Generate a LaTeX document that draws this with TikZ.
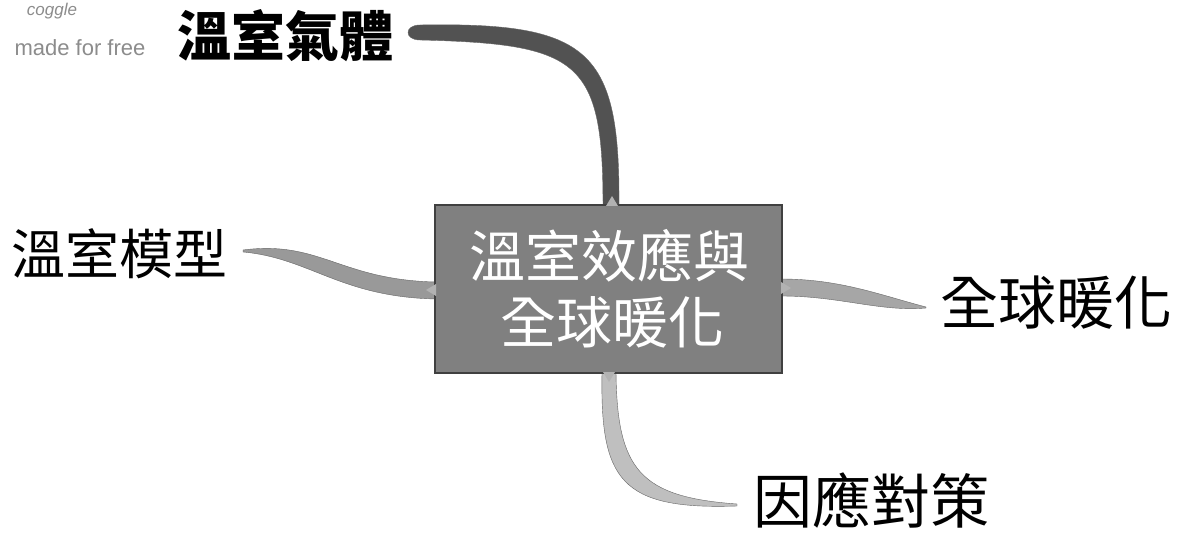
\documentclass[tikz,border=0pt]{standalone}
\usepackage{fontspec}
\newfontfamily\cjk{Noto Sans CJK TC}
\newfontfamily\lat{Liberation Sans}
\begin{document}
\begin{tikzpicture}[x=1pt,y=-1pt,
  lbl/.style={inner sep=0pt, text=black},
  ctext/.style={inner sep=0pt, text=white, font=\cjk\fontsize{56}{60}\selectfont},
  box/.style={draw=black!75, line width=1.2pt, fill=black!50, inner sep=0pt,
              minimum width=347pt, minimum height=168pt},
  branch/.style={draw=black!60, line width=0.4pt},
  nub/.style={fill=black!30}]
\useasboundingbox (0,0) rectangle (1182,534);
\fill[white] (0,0) rectangle (1182,534);

% watermark
\node[inner sep=0pt, text=black!45, font=\lat\itshape\fontsize{17}{18}\selectfont] (logo) at (52,11) {coggle};
\node[inner sep=0pt, text=black!45, font=\lat\fontsize{22}{24}\selectfont] (made) at (80,48) {made for free};

% branches
\filldraw[branch, fill=black!68] (619,206) .. controls (620,50) and (590,22) .. (420,25)
   .. controls (404,25) and (404,40) .. (420,40)
   .. controls (580,44) and (603,60) .. (603,206) -- cycle;
\filldraw[branch, fill=black!40] (243,250) .. controls (320,240) and (340,280) .. (436,282)
   -- (436,299) .. controls (340,297) and (310,258) .. (243,252) -- cycle;
\filldraw[branch, fill=black!35] (781,279) .. controls (840,279) and (880,295) .. (926,307)
   -- (926,308) .. controls (880,312) and (840,296) .. (781,296) -- cycle;
\filldraw[branch, fill=black!25] (602,372) .. controls (600,480) and (620,510) .. (737,506)
   -- (737,504) .. controls (640,497) and (617,470) .. (616,372) -- cycle;

% central node
\node[box] (c) at (608.5,289) {};
\node[ctext] (c1) at (609,256) {溫室效應與};
\node[ctext] (c2) at (612,322) {全球暖化};

% connector nubs
\fill[nub] (612,196) -- (606,206) -- (618,206) -- cycle;
\fill[nub] (426,290) -- (436,284) -- (436,296) -- cycle;
\fill[nub] (791,288) -- (781,282) -- (781,294) -- cycle;
\fill[nub] (609,382) -- (603,372) -- (615,372) -- cycle;

% labels
\node[lbl, font=\cjk\bfseries\fontsize{54}{60}\selectfont] (top) at (285,36) {溫室氣體};
\node[lbl, font=\cjk\fontsize{54}{60}\selectfont] (left) at (119,254) {溫室模型};
\node[lbl, font=\cjk\fontsize{58}{60}\selectfont] (right) at (1056,303) {全球暖化};
\node[lbl, font=\cjk\fontsize{59}{60}\selectfont] (bottom) at (871,501) {因應對策};
\end{tikzpicture}
\end{document}
